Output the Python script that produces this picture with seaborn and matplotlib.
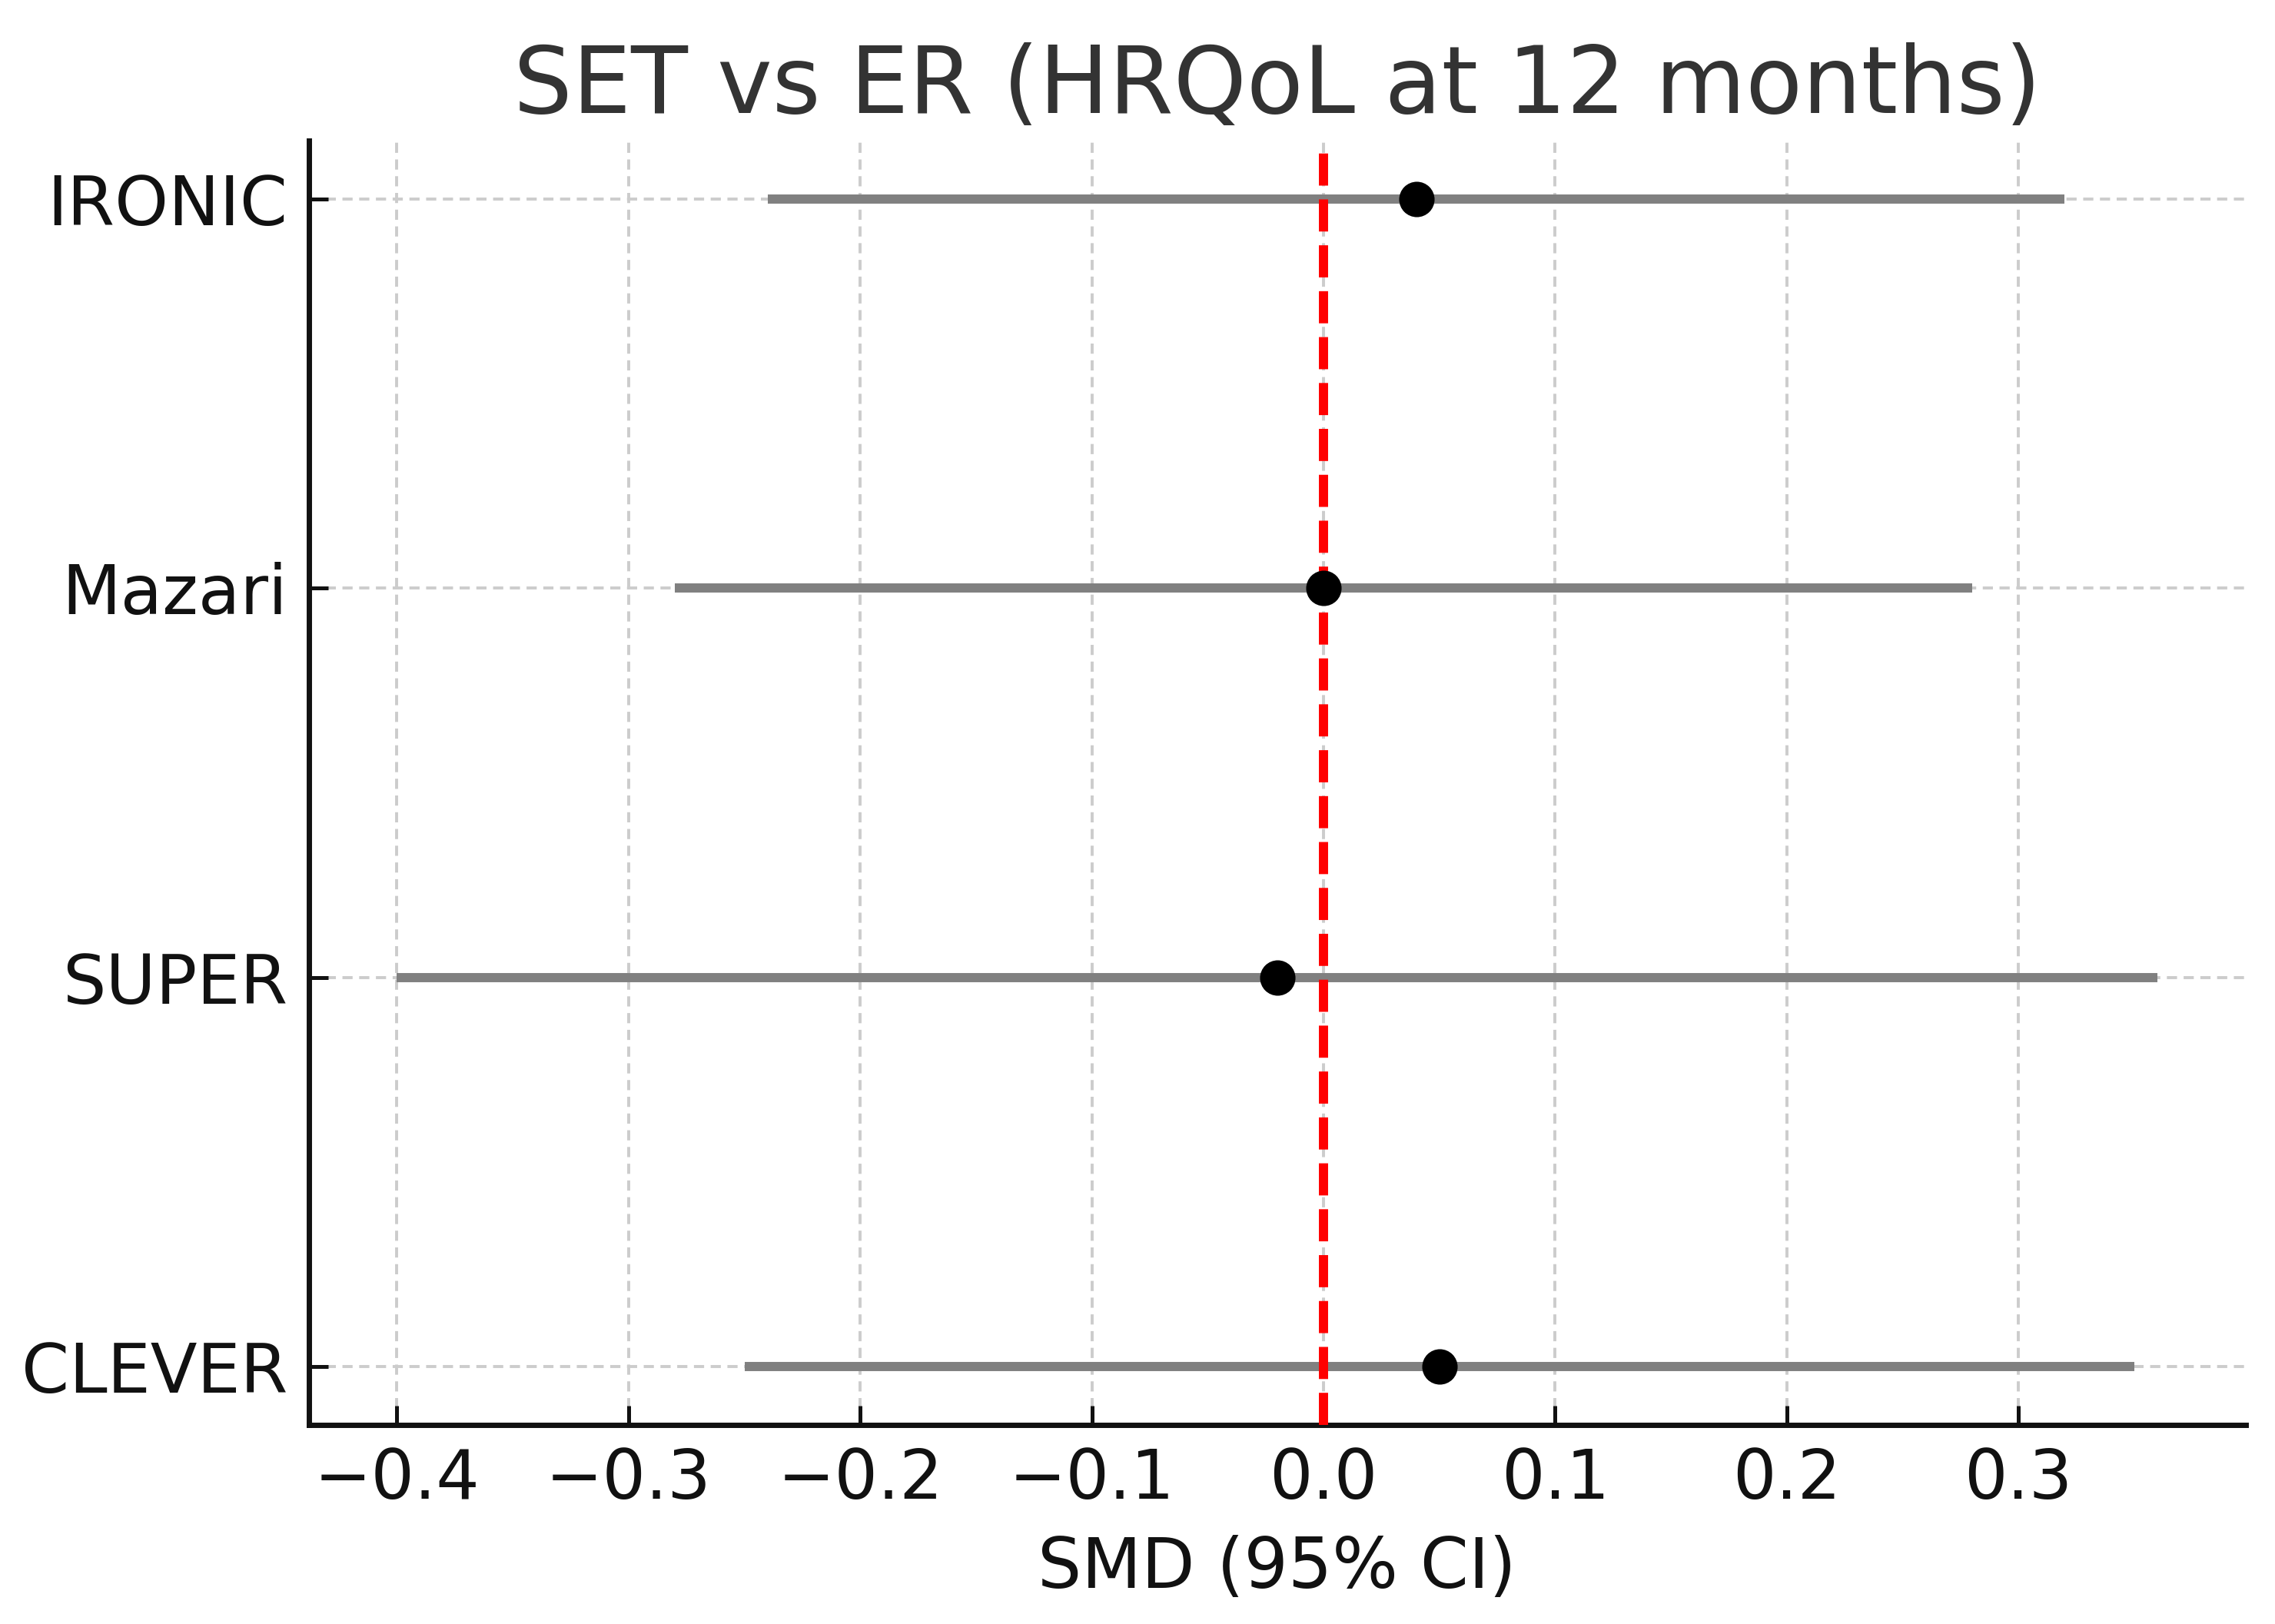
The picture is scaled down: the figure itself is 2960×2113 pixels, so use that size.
import numpy as np
import pandas as pd
import matplotlib
matplotlib.use("Agg")
import matplotlib.pyplot as plt
import seaborn as sns

# Study estimates (SMD with 95% CI), listed top to bottom
studies = ["IRONIC", "Mazari", "SUPER", "CLEVER"]
smd = [0.04, 0.00, -0.02, 0.05]
ci_low = [-0.24, -0.28, -0.40, -0.25]
ci_high = [0.32, 0.28, 0.36, 0.35]

title = "SET vs ER (HRQoL at 12 months)"
xlabel = "SMD (95% CI)"

df = pd.DataFrame({"study": studies, "smd": smd, "low": ci_low, "high": ci_high})
df["pos"] = np.arange(len(df))

sns.set_theme(style="ticks")
plt.rcParams["font.family"] = ["DejaVu Sans"]

fig, ax = plt.subplots(figsize=(14.8, 10.565), dpi=200)
fig.subplots_adjust(left=0.1358, right=0.987, top=0.9134, bottom=0.1226)

# confidence intervals
ax.hlines(df["pos"], df["low"], df["high"], color="gray", lw=4.3, zorder=2)
# point estimates
sns.scatterplot(data=df, x="smd", y="pos", color="black", s=275,
                linewidth=0, zorder=4, ax=ax)
# line of no effect
ax.axvline(0, color="red", lw=4.3, ls=(0, (3.5, 1.5)), zorder=3)

ax.set_yticks(df["pos"])
ax.set_yticklabels(df["study"])
ax.invert_yaxis()

ax.set_axisbelow(True)
ax.grid(True, color="#cccccc", lw=1.4, ls=(0, (3.4, 2.2)))

for side in ["top", "right"]:
    ax.spines[side].set_visible(False)
for side in ["left", "bottom"]:
    ax.spines[side].set_linewidth(2.5)
    ax.spines[side].set_color("#111111")

ax.tick_params(axis="both", direction="in", length=9, width=1.8,
               labelsize=32, pad=10, colors="#111111")

ax.set_title(title, fontsize=43.5, color="#333333", pad=13)
ax.set_xlabel(xlabel, fontsize=32.5, color="#111111", labelpad=10)
ax.set_ylabel("")

fig.savefig("out.png", dpi=200)
